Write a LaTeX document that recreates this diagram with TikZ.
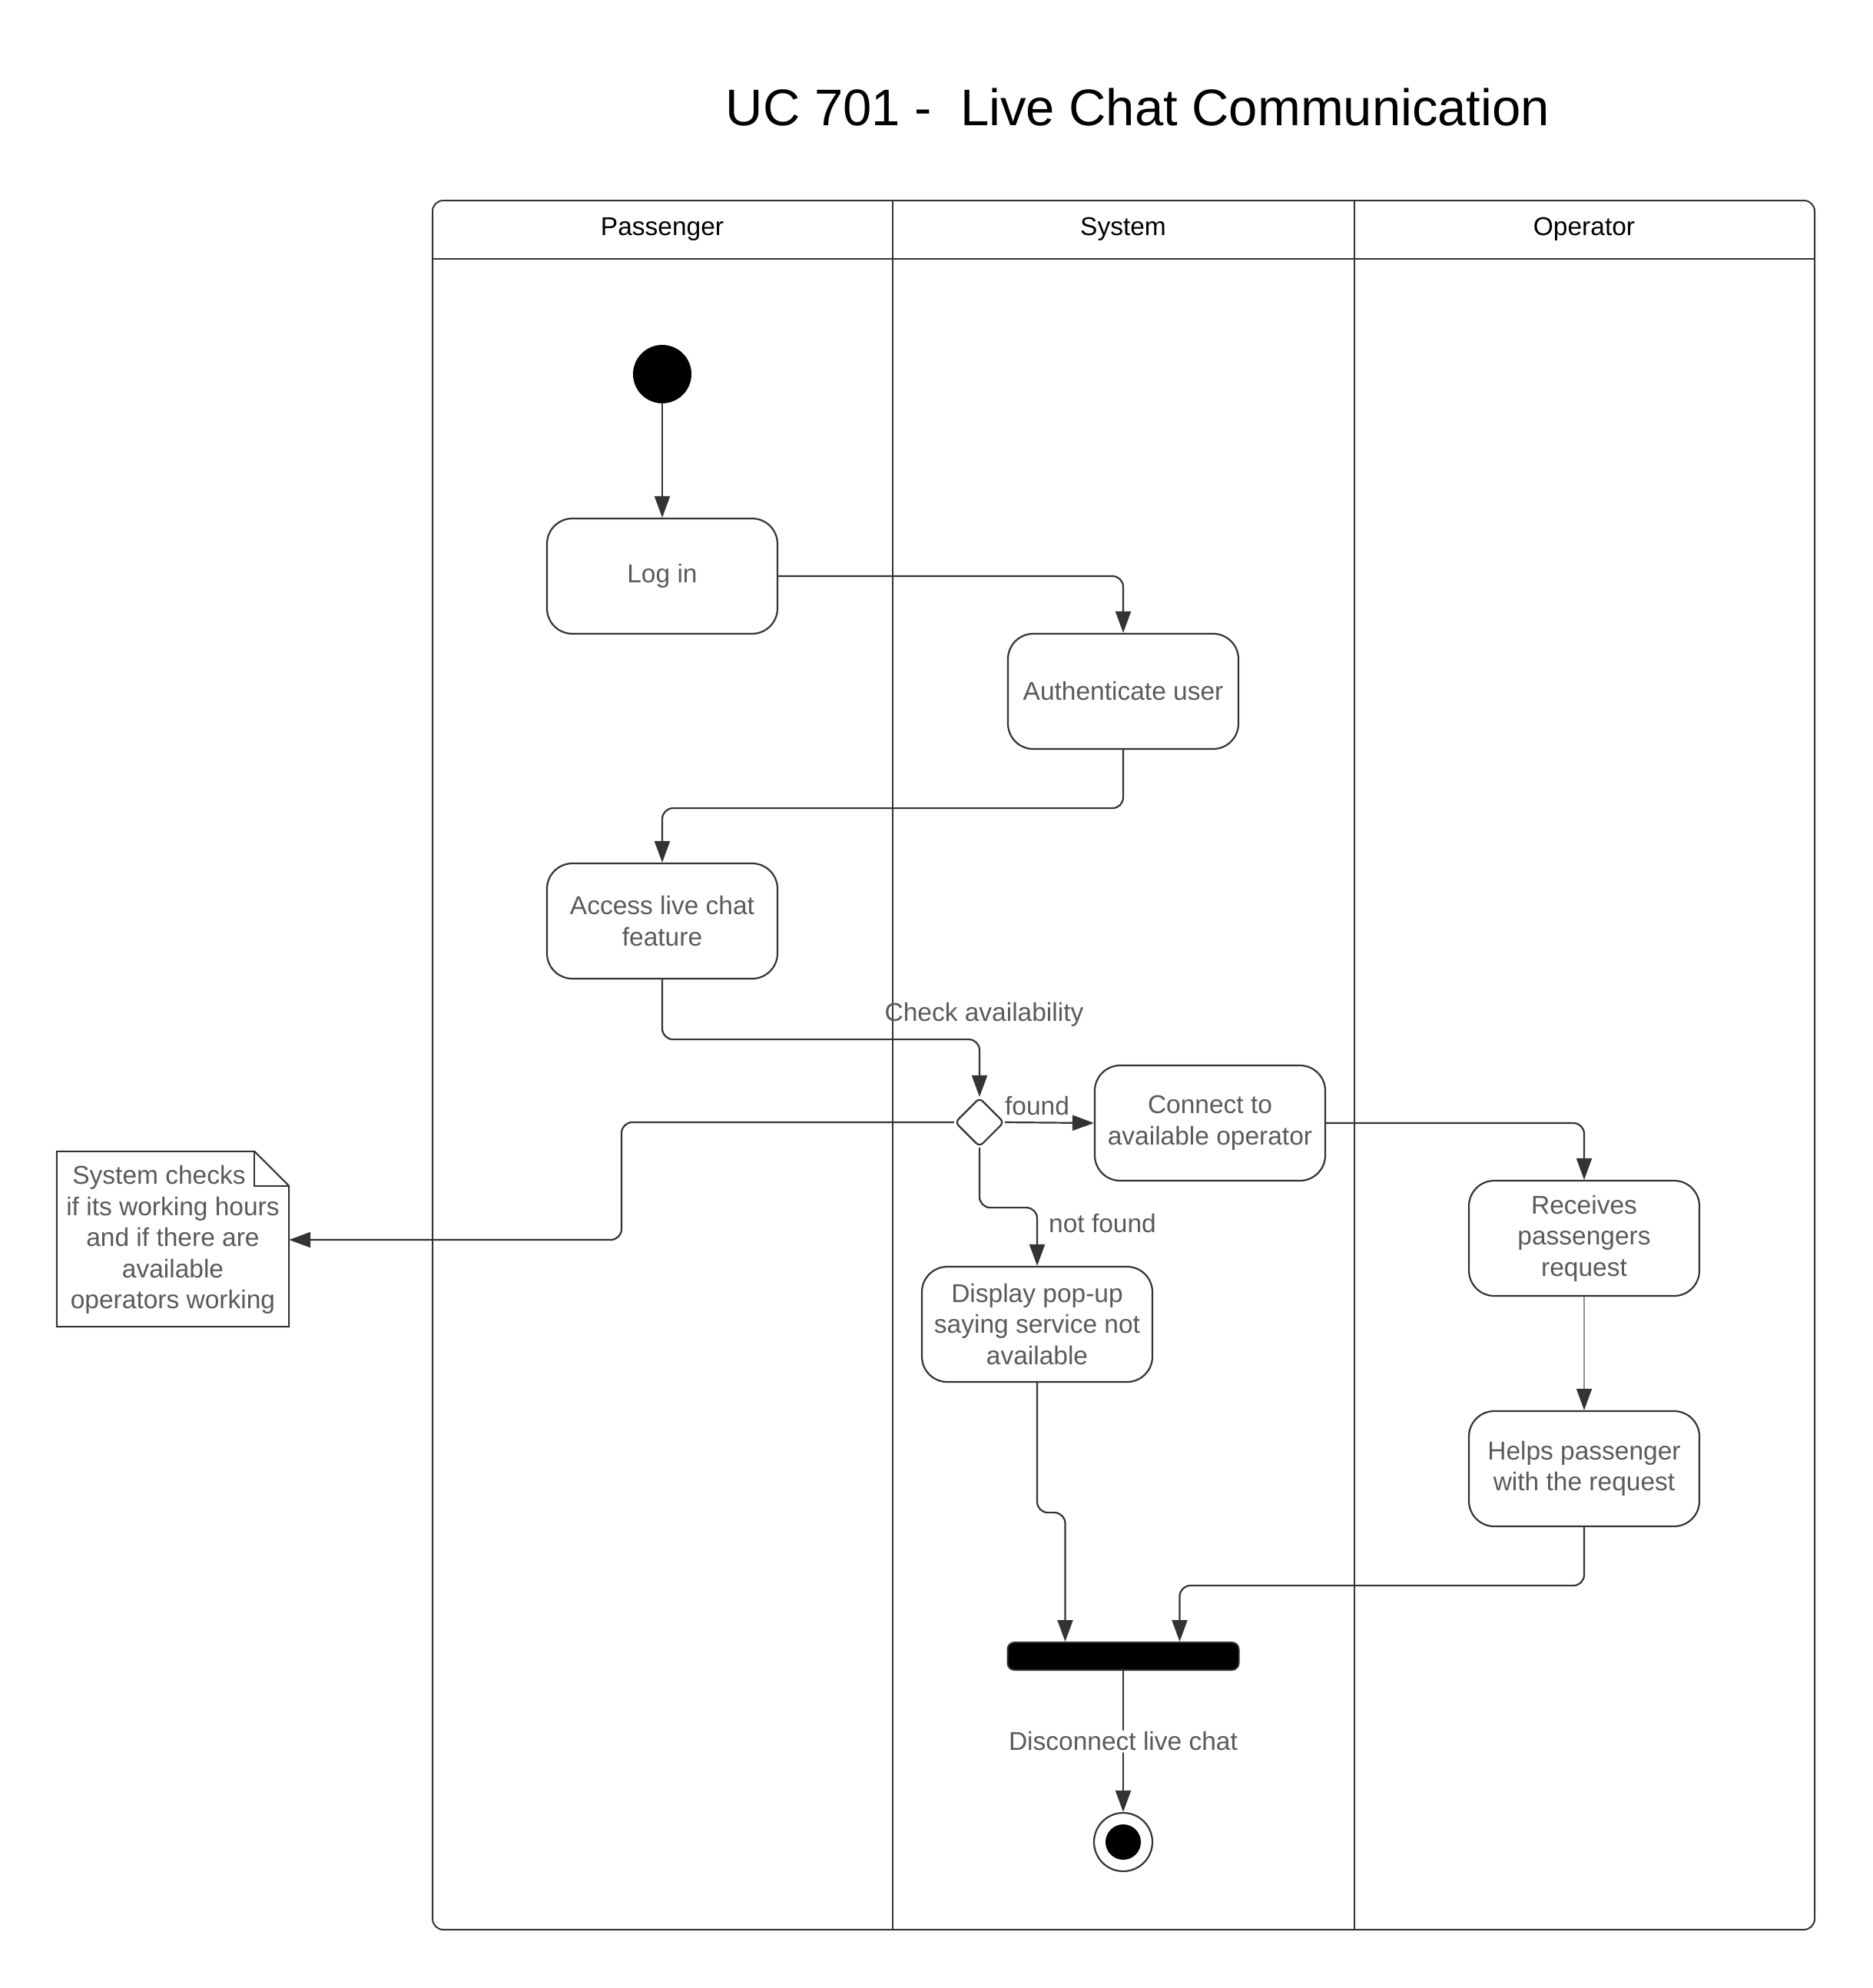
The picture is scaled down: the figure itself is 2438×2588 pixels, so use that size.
\documentclass[tikz,border=0pt]{standalone}
\usepackage{fontspec}
\setmainfont{Liberation Sans}
\usepackage{tikz}
\usetikzlibrary{shapes.geometric,arrows.meta,positioning,calc}
\definecolor{linegray}{HTML}{333333}
\definecolor{textgray}{HTML}{5A5A5A}

\begin{document}
\begin{tikzpicture}[
    x=1pt, y=-1pt,
    font=\fontsize{33.5}{40.5}\selectfont,
    activity/.style={
      rectangle,
      draw=linegray,
      line width=2.2pt,
      rounded corners=33pt,
      minimum width=300pt,
      minimum height=150pt,
      inner sep=6pt,
      align=center,
      text=textgray,
    },
    flow/.style={
      draw=linegray,
      line width=2.2pt,
      rounded corners=14pt,
      -{Triangle[length=28pt,width=20pt,color=linegray]},
    },
    lbl/.style={text=textgray, inner sep=2pt},
    lane/.style={draw=linegray, line width=2pt},
    lanehead/.style={text=black},
  ]
    \useasboundingbox (0,0) rectangle (2438,2588);

    % title
    \node[font=\fontsize{67}{80}\selectfont] (Title) at (1481,140) {UC 701 -~ Live Chat Communication};

    % swimlanes
    \draw[lane, rounded corners=14pt] (563,261) rectangle (2362,2512);
    \draw[lane] (563,337) -- (2362,337);
    \draw[lane] (1162,261) -- (1162,2512);
    \draw[lane] (1763,261) -- (1763,2512);
    \node[lanehead] (Passenger) at (862,298) {Passenger};
    \node[lanehead] (System) at (1462,298) {System};
    \node[lanehead] (Operator) at (2062,298) {Operator};

    % states
    \node[circle, fill=black, minimum size=76pt, inner sep=0pt] (Start) at (862,487) {};
    \node[activity] (LogIn) at (862,750) {Log in};
    \node[activity] (AuthUser) at (1462,900) {Authenticate user};
    \node[activity] (AccessChat) at (862,1199) {Access live chat\\feature};
    \node[diamond, aspect=1, draw=linegray, line width=2.2pt, rounded corners=6pt,
          minimum size=64pt, inner sep=0pt] (CheckDec) at (1275,1461) {};
    \node[activity] (Connect) at (1575,1462) {Connect to\\available operator};
    \node[activity] (Popup) at (1350,1724) {Display pop-up\\saying service not\\available};
    \node[activity] (Receive) at (2062,1612) {Receives\\passengers\\request};
    \node[activity] (Helps) at (2062,1912) {Helps passenger\\with the request};
    \node[rectangle, fill=black, draw=linegray, line width=2pt, rounded corners=9pt,
          minimum width=301pt, minimum height=36pt, inner sep=0pt] (JoinBar) at (1462,2156) {};
    \node[circle, draw=linegray, line width=2.2pt, minimum size=76pt, inner sep=0pt,
          path picture={\fill[black] (path picture bounding box.center) circle[radius=23pt];}] (End) at (1462,2398) {};

    % note
    \node[lbl, align=center, minimum width=302pt, minimum height=226pt] (Note) at (225,1614)
      {System checks\hspace*{36pt}\\if its working hours\\and if there are\\available\\operators working};
    \draw[lane] ($(Note.north west)+(0,-2)$) -- ($(Note.north east)+(-45,-2)$) -- ($(Note.north east)+(0,43)$)
      -- (Note.south east) -- (Note.south west) -- cycle;
    \draw[lane] ($(Note.north east)+(-45,-2)$) -- ($(Note.north east)+(-45,43)$) -- ($(Note.north east)+(0,43)$);

    % labels
    \node[lbl] (ChkLbl) at (1281,1321) {Check availability};
    \node[lbl] (FoundLbl) at (1350,1440) {found};
    \node[lbl] (NotFoundLbl) at (1435,1593) {not found};

    % flows
    \draw[flow] (Start) -- (LogIn);
    \draw[flow] (LogIn.east) -| (AuthUser.north);
    \draw[flow] (AuthUser.south) -- ++(0,76) -| (AccessChat.north);
    \draw[flow] (AccessChat.south) -- ++(0,78) -| (CheckDec.north);
    \draw[flow] (CheckDec.east) -- (Connect.west);
    \coordinate (NoteBend) at (809,1461);
    \draw[flow] (CheckDec.west) -- (NoteBend) |- (Note.east);
    \draw[flow] (CheckDec.south) -- ++(0,78) -| (Popup.north);
    \draw[flow] (Connect.east) -| (Receive.north);
    \draw[flow, draw=linegray!55, line width=1.6pt] (Receive) -- (Helps);
    \draw[flow] (Popup.south) -- ++(0,169) -| ($(JoinBar.north west)+(76,0)$);
    \draw[flow] (Helps.south) -- ++(0,76) -| ($(JoinBar.north west)+(225,0)$);
    \draw[flow] (JoinBar) -- node[lbl, fill=white] (DiscLbl) {Disconnect live chat} (End);
  \end{tikzpicture}
\end{document}
